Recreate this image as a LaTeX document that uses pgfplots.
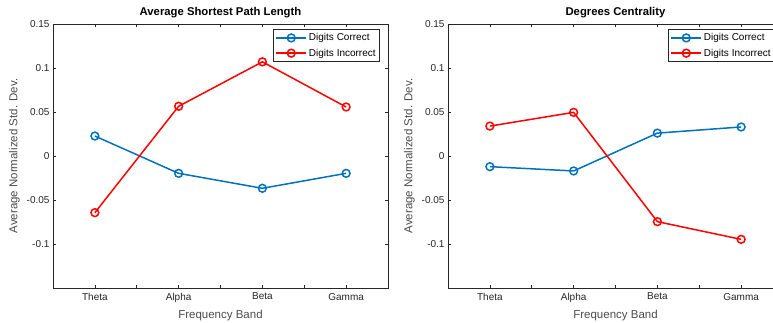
\documentclass[border=0pt]{standalone}
\usepackage{fontspec}
\setmainfont{Liberation Sans}
\usepackage{pgfplots}
\pgfplotsset{compat=1.18}
\definecolor{mblue}{rgb}{0,0.447,0.741}
\definecolor{axgray}{gray}{0.15}
\definecolor{labgray}{gray}{0.3}
\pgfplotsset{
  mystyle/.style={
    scale only axis, width=335bp, height=264bp,
    xmin=0.5, xmax=4.5, ymin=-0.15, ymax=0.15,
    xtick={1,1.5,2,2.5,3,3.5,4},
    xticklabels={Theta,,Alpha,,Beta,,Gamma},
    ytick={-0.1,-0.05,0,0.05,0.1,0.15},
    yticklabels={-0.1,-0.05,0,0.05,0.1,0.15},
    tick align=inside, major tick length=3bp,
    axis line style={axgray, line width=0.6bp},
    tick style={axgray, line width=0.6bp},
    ticklabel style={font=\fontsize{10bp}{12bp}\selectfont, text=axgray},
    xticklabel style={yshift=-1.5bp},
    label style={font=\fontsize{11.5bp}{13bp}\selectfont, text=labgray},
    xlabel style={yshift=-1bp},
    title style={font=\fontsize{11.3bp}{13bp}\selectfont\bfseries, text=black, yshift=-3bp},
    xlabel={Frequency Band},
    ylabel={Average Normalized Std. Dev.},
    legend style={font=\fontsize{10bp}{12bp}\selectfont, draw=axgray, line width=0.6bp,
      at={(rel axis cs:0.976,0.98)}, anchor=north east, inner xsep=2bp, inner ysep=2bp,
      row sep=2.5bp, legend cell align=left},
    legend image code/.code={\draw[mark repeat=2,mark phase=2] plot coordinates {(0bp,0bp)(15bp,0bp)(30bp,0bp)};},
    every axis plot/.append style={line width=1.5bp, mark=o, mark size=3.9bp, mark options={solid, fill=white}},
  }
}
\begin{document}
\begin{tikzpicture}[x=1bp,y=1bp]
\path[use as bounding box] (0,0) rectangle (773,322);
\begin{axis}[mystyle, at={(53bp,34bp)}, anchor=south west, title={Average Shortest Path Length}]
\addplot[mblue] coordinates {(1,0.0227) (2,-0.0197) (3,-0.0367) (4,-0.0197)};
\addplot[red] coordinates {(1,-0.0644) (2,0.0565) (3,0.107) (4,0.0557)};
\legend{Digits Correct, Digits Incorrect}
\end{axis}
\begin{axis}[mystyle, at={(448bp,34bp)}, anchor=south west, title={Degrees Centrality}]
\addplot[mblue] coordinates {(1,-0.0121) (2,-0.017) (3,0.026) (4,0.033)};
\addplot[red] coordinates {(1,0.034) (2,0.0496) (3,-0.0746) (4,-0.0947)};
\legend{Digits Correct, Digits Incorrect}
\end{axis}
\end{tikzpicture}
\end{document}
